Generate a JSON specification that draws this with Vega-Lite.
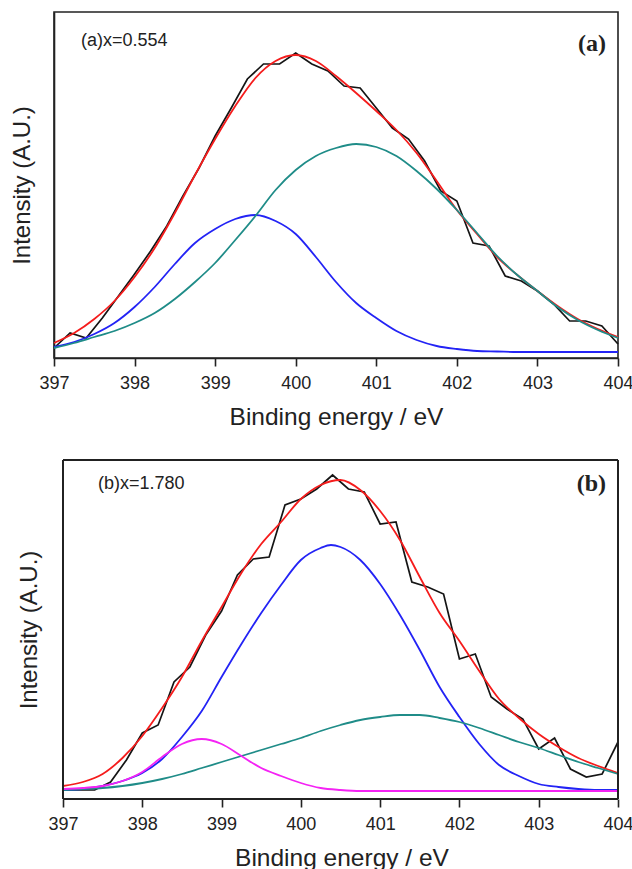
{
  "$schema": "https://vega.github.io/schema/vega-lite/v6.json",
  "background": "white",
  "padding": {"left": 9, "top": 11, "right": 0, "bottom": 0},
  "spacing": 29,
  "config": {
    "view": {"stroke": "#222222", "strokeWidth": 1.6},
    "font": "Liberation Sans",
    "axis": {"grid": false, "domainColor": "#222222", "domainWidth": 1.6, "tickColor": "#222222", "tickWidth": 1.6, "labelColor": "#222222", "titleColor": "#222222", "labelFont": "Liberation Sans", "titleFont": "Liberation Sans", "titleFontWeight": "normal"}
  },
  "datasets": {
    "a": [
      {"s":"data","x":397.0,"y":10},{"s":"data","x":397.2,"y":25},{"s":"data","x":397.4,"y":20},{"s":"data","x":397.6,"y":40},{"s":"data","x":397.8,"y":62},
      {"s":"data","x":398.0,"y":84},{"s":"data","x":398.2,"y":107},{"s":"data","x":398.4,"y":132},{"s":"data","x":398.6,"y":162},{"s":"data","x":398.8,"y":190},
      {"s":"data","x":399.0,"y":222},{"s":"data","x":399.2,"y":250},{"s":"data","x":399.4,"y":279},{"s":"data","x":399.6,"y":294},{"s":"data","x":399.8,"y":294},
      {"s":"data","x":400.0,"y":305},{"s":"data","x":400.2,"y":294},{"s":"data","x":400.4,"y":287},{"s":"data","x":400.6,"y":272},{"s":"data","x":400.8,"y":270},
      {"s":"data","x":401.0,"y":250},{"s":"data","x":401.2,"y":230},{"s":"data","x":401.4,"y":219},{"s":"data","x":401.6,"y":197},{"s":"data","x":401.8,"y":167},
      {"s":"data","x":402.0,"y":157},{"s":"data","x":402.2,"y":115},{"s":"data","x":402.4,"y":112},{"s":"data","x":402.6,"y":82},{"s":"data","x":402.8,"y":77},
      {"s":"data","x":403.0,"y":67},{"s":"data","x":403.2,"y":54},{"s":"data","x":403.4,"y":37},{"s":"data","x":403.6,"y":37},{"s":"data","x":403.8,"y":32},{"s":"data","x":404.0,"y":14},

      {"s":"fit","x":397.0,"y":15},{"s":"fit","x":397.25,"y":25},{"s":"fit","x":397.5,"y":39},{"s":"fit","x":397.75,"y":57},{"s":"fit","x":398.0,"y":81},
      {"s":"fit","x":398.25,"y":110},{"s":"fit","x":398.5,"y":145},{"s":"fit","x":398.75,"y":183},{"s":"fit","x":399.0,"y":219},{"s":"fit","x":399.25,"y":252},
      {"s":"fit","x":399.5,"y":280},{"s":"fit","x":399.75,"y":297},{"s":"fit","x":400.0,"y":303},{"s":"fit","x":400.25,"y":297},{"s":"fit","x":400.5,"y":282},
      {"s":"fit","x":400.75,"y":265},{"s":"fit","x":401.0,"y":247},{"s":"fit","x":401.25,"y":228},{"s":"fit","x":401.5,"y":205},{"s":"fit","x":401.75,"y":177},
      {"s":"fit","x":402.0,"y":148},{"s":"fit","x":402.25,"y":124},{"s":"fit","x":402.5,"y":101},{"s":"fit","x":402.75,"y":83},{"s":"fit","x":403.0,"y":67},
      {"s":"fit","x":403.25,"y":52},{"s":"fit","x":403.5,"y":39},{"s":"fit","x":403.75,"y":29},{"s":"fit","x":404.0,"y":21},

      {"s":"c1","x":397.0,"y":11},{"s":"c1","x":397.25,"y":16},{"s":"c1","x":397.5,"y":24},{"s":"c1","x":397.75,"y":35},{"s":"c1","x":398.0,"y":51},
      {"s":"c1","x":398.25,"y":71},{"s":"c1","x":398.5,"y":94},{"s":"c1","x":398.75,"y":115},{"s":"c1","x":399.0,"y":129},{"s":"c1","x":399.25,"y":139},
      {"s":"c1","x":399.5,"y":143},{"s":"c1","x":399.75,"y":137},{"s":"c1","x":400.0,"y":124},{"s":"c1","x":400.25,"y":101},{"s":"c1","x":400.5,"y":76},
      {"s":"c1","x":400.75,"y":55},{"s":"c1","x":401.0,"y":40},{"s":"c1","x":401.25,"y":27},{"s":"c1","x":401.5,"y":18},{"s":"c1","x":401.75,"y":12},
      {"s":"c1","x":402.0,"y":9},{"s":"c1","x":402.25,"y":7},{"s":"c1","x":402.5,"y":6.5},{"s":"c1","x":402.75,"y":6},{"s":"c1","x":403.0,"y":6},
      {"s":"c1","x":403.5,"y":6},{"s":"c1","x":404.0,"y":6},

      {"s":"c2","x":397.0,"y":10},{"s":"c2","x":397.25,"y":15},{"s":"c2","x":397.5,"y":21},{"s":"c2","x":397.75,"y":27},{"s":"c2","x":398.0,"y":35},
      {"s":"c2","x":398.25,"y":45},{"s":"c2","x":398.5,"y":59},{"s":"c2","x":398.75,"y":76},{"s":"c2","x":399.0,"y":95},{"s":"c2","x":399.25,"y":118},
      {"s":"c2","x":399.5,"y":142},{"s":"c2","x":399.75,"y":168},{"s":"c2","x":400.0,"y":188},{"s":"c2","x":400.25,"y":202},{"s":"c2","x":400.5,"y":210},
      {"s":"c2","x":400.75,"y":214},{"s":"c2","x":401.0,"y":211},{"s":"c2","x":401.25,"y":202},{"s":"c2","x":401.5,"y":187},{"s":"c2","x":401.75,"y":169},
      {"s":"c2","x":402.0,"y":148},{"s":"c2","x":402.25,"y":125},{"s":"c2","x":402.5,"y":102},{"s":"c2","x":402.75,"y":83},{"s":"c2","x":403.0,"y":67},
      {"s":"c2","x":403.25,"y":51},{"s":"c2","x":403.5,"y":38},{"s":"c2","x":403.75,"y":28},{"s":"c2","x":404.0,"y":20}
    ],
    "b": [
      {"s":"data","x":397.0,"y":9},{"s":"data","x":397.2,"y":9},{"s":"data","x":397.4,"y":9},{"s":"data","x":397.6,"y":17},{"s":"data","x":397.8,"y":39},
      {"s":"data","x":398.0,"y":66},{"s":"data","x":398.2,"y":74},{"s":"data","x":398.4,"y":117},{"s":"data","x":398.6,"y":132},{"s":"data","x":398.8,"y":164},
      {"s":"data","x":399.0,"y":188},{"s":"data","x":399.2,"y":224},{"s":"data","x":399.4,"y":240},{"s":"data","x":399.6,"y":242},{"s":"data","x":399.8,"y":294},
      {"s":"data","x":400.0,"y":300},{"s":"data","x":400.2,"y":310},{"s":"data","x":400.4,"y":324},{"s":"data","x":400.6,"y":310},{"s":"data","x":400.8,"y":307},
      {"s":"data","x":401.0,"y":275},{"s":"data","x":401.2,"y":277},{"s":"data","x":401.4,"y":217},{"s":"data","x":401.6,"y":212},{"s":"data","x":401.8,"y":205},
      {"s":"data","x":402.0,"y":140},{"s":"data","x":402.2,"y":145},{"s":"data","x":402.4,"y":102},{"s":"data","x":402.6,"y":90},{"s":"data","x":402.8,"y":80},
      {"s":"data","x":403.0,"y":50},{"s":"data","x":403.2,"y":61},{"s":"data","x":403.4,"y":30},{"s":"data","x":403.6,"y":22},{"s":"data","x":403.8,"y":25},{"s":"data","x":404.0,"y":57},

      {"s":"fit","x":397.0,"y":13},{"s":"fit","x":397.25,"y":17},{"s":"fit","x":397.5,"y":25},{"s":"fit","x":397.75,"y":41},{"s":"fit","x":398.0,"y":63},
      {"s":"fit","x":398.25,"y":91},{"s":"fit","x":398.5,"y":122},{"s":"fit","x":398.75,"y":158},{"s":"fit","x":399.0,"y":192},{"s":"fit","x":399.25,"y":226},
      {"s":"fit","x":399.5,"y":255},{"s":"fit","x":399.75,"y":277},{"s":"fit","x":400.0,"y":300},{"s":"fit","x":400.25,"y":314},{"s":"fit","x":400.5,"y":319},
      {"s":"fit","x":400.75,"y":309},{"s":"fit","x":401.0,"y":288},{"s":"fit","x":401.25,"y":259},{"s":"fit","x":401.5,"y":222},{"s":"fit","x":401.75,"y":186},
      {"s":"fit","x":402.0,"y":158},{"s":"fit","x":402.25,"y":128},{"s":"fit","x":402.5,"y":100},{"s":"fit","x":402.75,"y":81},{"s":"fit","x":403.0,"y":65},
      {"s":"fit","x":403.25,"y":52},{"s":"fit","x":403.5,"y":41},{"s":"fit","x":403.75,"y":33},{"s":"fit","x":404.0,"y":26},

      {"s":"c1","x":397.0,"y":9},{"s":"c1","x":397.25,"y":10},{"s":"c1","x":397.5,"y":13},{"s":"c1","x":397.75,"y":18},{"s":"c1","x":398.0,"y":26},
      {"s":"c1","x":398.25,"y":40},{"s":"c1","x":398.5,"y":62},{"s":"c1","x":398.75,"y":88},{"s":"c1","x":399.0,"y":122},{"s":"c1","x":399.25,"y":155},
      {"s":"c1","x":399.5,"y":186},{"s":"c1","x":399.75,"y":214},{"s":"c1","x":400.0,"y":239},{"s":"c1","x":400.25,"y":251},{"s":"c1","x":400.38,"y":254},
      {"s":"c1","x":400.5,"y":252},{"s":"c1","x":400.75,"y":239},{"s":"c1","x":401.0,"y":215},{"s":"c1","x":401.25,"y":184},{"s":"c1","x":401.5,"y":149},
      {"s":"c1","x":401.75,"y":112},{"s":"c1","x":402.0,"y":82},{"s":"c1","x":402.25,"y":55},{"s":"c1","x":402.5,"y":34},{"s":"c1","x":402.75,"y":23},
      {"s":"c1","x":403.0,"y":15},{"s":"c1","x":403.25,"y":12},{"s":"c1","x":403.5,"y":10},{"s":"c1","x":403.75,"y":9},{"s":"c1","x":404.0,"y":9},

      {"s":"c2","x":397.0,"y":9},{"s":"c2","x":397.25,"y":10},{"s":"c2","x":397.5,"y":11},{"s":"c2","x":397.75,"y":13},{"s":"c2","x":398.0,"y":16},
      {"s":"c2","x":398.25,"y":20},{"s":"c2","x":398.5,"y":25},{"s":"c2","x":398.75,"y":31},{"s":"c2","x":399.0,"y":37},{"s":"c2","x":399.25,"y":43},
      {"s":"c2","x":399.5,"y":49},{"s":"c2","x":399.75,"y":55},{"s":"c2","x":400.0,"y":61},{"s":"c2","x":400.25,"y":68},{"s":"c2","x":400.5,"y":74},
      {"s":"c2","x":400.75,"y":79},{"s":"c2","x":401.0,"y":82},{"s":"c2","x":401.25,"y":84},{"s":"c2","x":401.5,"y":84},{"s":"c2","x":401.75,"y":81},
      {"s":"c2","x":402.0,"y":77},{"s":"c2","x":402.25,"y":71},{"s":"c2","x":402.5,"y":64},{"s":"c2","x":402.75,"y":57},{"s":"c2","x":403.0,"y":51},
      {"s":"c2","x":403.25,"y":44},{"s":"c2","x":403.5,"y":37},{"s":"c2","x":403.75,"y":31},{"s":"c2","x":404.0,"y":25},

      {"s":"c3","x":397.0,"y":10},{"s":"c3","x":397.25,"y":11},{"s":"c3","x":397.5,"y":13},{"s":"c3","x":397.75,"y":18},{"s":"c3","x":398.0,"y":27},
      {"s":"c3","x":398.25,"y":42},{"s":"c3","x":398.5,"y":55},{"s":"c3","x":398.75,"y":60},{"s":"c3","x":399.0,"y":55},{"s":"c3","x":399.25,"y":43},
      {"s":"c3","x":399.5,"y":31},{"s":"c3","x":399.75,"y":23},{"s":"c3","x":400.0,"y":16},{"s":"c3","x":400.25,"y":11},{"s":"c3","x":400.5,"y":9},
      {"s":"c3","x":400.75,"y":8},{"s":"c3","x":401.0,"y":8},{"s":"c3","x":402.0,"y":8},{"s":"c3","x":403.0,"y":8},{"s":"c3","x":404.0,"y":8}
    ]
  },
  "vconcat": [
    {
      "width": 564,
      "height": 346,
      "data": {"name": "a"},
      "encoding": {
        "x": {"field": "x", "type": "quantitative", "scale": {"domain": [397, 404], "nice": false, "zero": false},
          "axis": {"title": "Binding energy / eV", "values": [397,398,399,400,401,402,403,404], "format": "d", "tickSize": 8, "labelPadding": 8, "labelFontSize": 18, "labelFlush": false, "titleFontSize": 24.5, "titlePadding": 13}},
        "y": {"field": "y", "type": "quantitative", "scale": {"domain": [0, 346], "nice": false},
          "axis": {"title": "Intensity (A.U.)", "labels": false, "ticks": false, "titleFontSize": 24, "titlePadding": 20}},
        "color": {"field": "s", "type": "nominal", "legend": null,
          "scale": {"domain": ["data", "fit", "c1", "c2", "c3"], "range": ["#151515", "#f51c1c", "#2323f5", "#1f8c88", "#f423f4"]}}
      },
      "layer": [
        {"transform": [{"filter": "datum.s === 'data'"}], "mark": {"type": "line", "strokeWidth": 1.7, "interpolate": "linear"}},
        {"transform": [{"filter": "datum.s !== 'data'"}], "mark": {"type": "line", "strokeWidth": 1.8, "interpolate": "monotone"}, "encoding": {"detail": {"field": "s"}}},
        {"data": {"values": [{"x": 397.335, "y": 317, "t": "(a)x=0.554"}]}, "mark": {"type": "text", "align": "left", "baseline": "middle", "fontSize": 18, "font": "Liberation Sans"}, "encoding": {"text": {"field": "t"}, "color": {"value": "#222222"}}},
        {"data": {"values": [{"x": 403.85, "y": 314, "t": "(a)"}]}, "mark": {"type": "text", "align": "right", "baseline": "middle", "fontSize": 24, "font": "Liberation Serif", "fontWeight": "bold"}, "encoding": {"text": {"field": "t"}, "color": {"value": "#222222"}}}
      ]
    },
    {
      "width": 564,
      "height": 339,
      "view": {"stroke": null},
      "data": {"name": "b"},
      "encoding": {
        "x": {"field": "x", "type": "quantitative", "scale": {"domain": [396.8865, 404], "nice": false, "zero": false},
          "axis": {"title": "Binding energy / eV", "values": [397,398,399,400,401,402,403,404], "format": "d", "domain": false, "tickSize": 8, "labelPadding": 8, "labelFontSize": 18, "labelFlush": false, "titleFontSize": 24.5, "titlePadding": 13, "titleX": 287.5}},
        "y": {"field": "y", "type": "quantitative", "scale": {"domain": [0, 339], "nice": false},
          "axis": {"title": "Intensity (A.U.)", "labels": false, "ticks": false, "domain": false, "titleFontSize": 24, "titlePadding": 13}},
        "color": {"field": "s", "type": "nominal", "legend": null,
          "scale": {"domain": ["data", "fit", "c1", "c2", "c3"], "range": ["#151515", "#f51c1c", "#2323f5", "#1f8c88", "#f423f4"]}}
      },
      "layer": [
        {"transform": [{"filter": "datum.s === 'data'"}], "mark": {"type": "line", "strokeWidth": 1.7, "interpolate": "linear"}},
        {"transform": [{"filter": "datum.s !== 'data'"}], "mark": {"type": "line", "strokeWidth": 1.8, "interpolate": "monotone"}, "encoding": {"detail": {"field": "s"}}},
        {"data": {"values": [{"x": 397.44, "y": 315, "t": "(b)x=1.780"}]}, "mark": {"type": "text", "align": "left", "baseline": "middle", "fontSize": 18, "font": "Liberation Sans"}, "encoding": {"text": {"field": "t"}, "color": {"value": "#222222"}}},
        {"data": {"values": [{"x": 403.85, "y": 315, "t": "(b)"}]}, "mark": {"type": "text", "align": "right", "baseline": "middle", "fontSize": 24, "font": "Liberation Serif", "fontWeight": "bold"}, "encoding": {"text": {"field": "t"}, "color": {"value": "#222222"}}},
        {"mark": {"type": "rule", "strokeWidth": 1.6}, "encoding": {"x": {"datum": 397}, "y": {"datum": 0}, "y2": {"datum": 339}, "color": {"value": "#222222"}}},
        {"mark": {"type": "rule", "strokeWidth": 1.6}, "encoding": {"x": {"datum": 404}, "y": {"datum": 0}, "y2": {"datum": 339}, "color": {"value": "#222222"}}},
        {"mark": {"type": "rule", "strokeWidth": 1.6}, "encoding": {"y": {"datum": 0}, "x": {"datum": 397}, "x2": {"datum": 404}, "color": {"value": "#222222"}}},
        {"mark": {"type": "rule", "strokeWidth": 1.6}, "encoding": {"y": {"datum": 339}, "x": {"datum": 397}, "x2": {"datum": 404}, "color": {"value": "#222222"}}}
      ]
    }
  ]
}
